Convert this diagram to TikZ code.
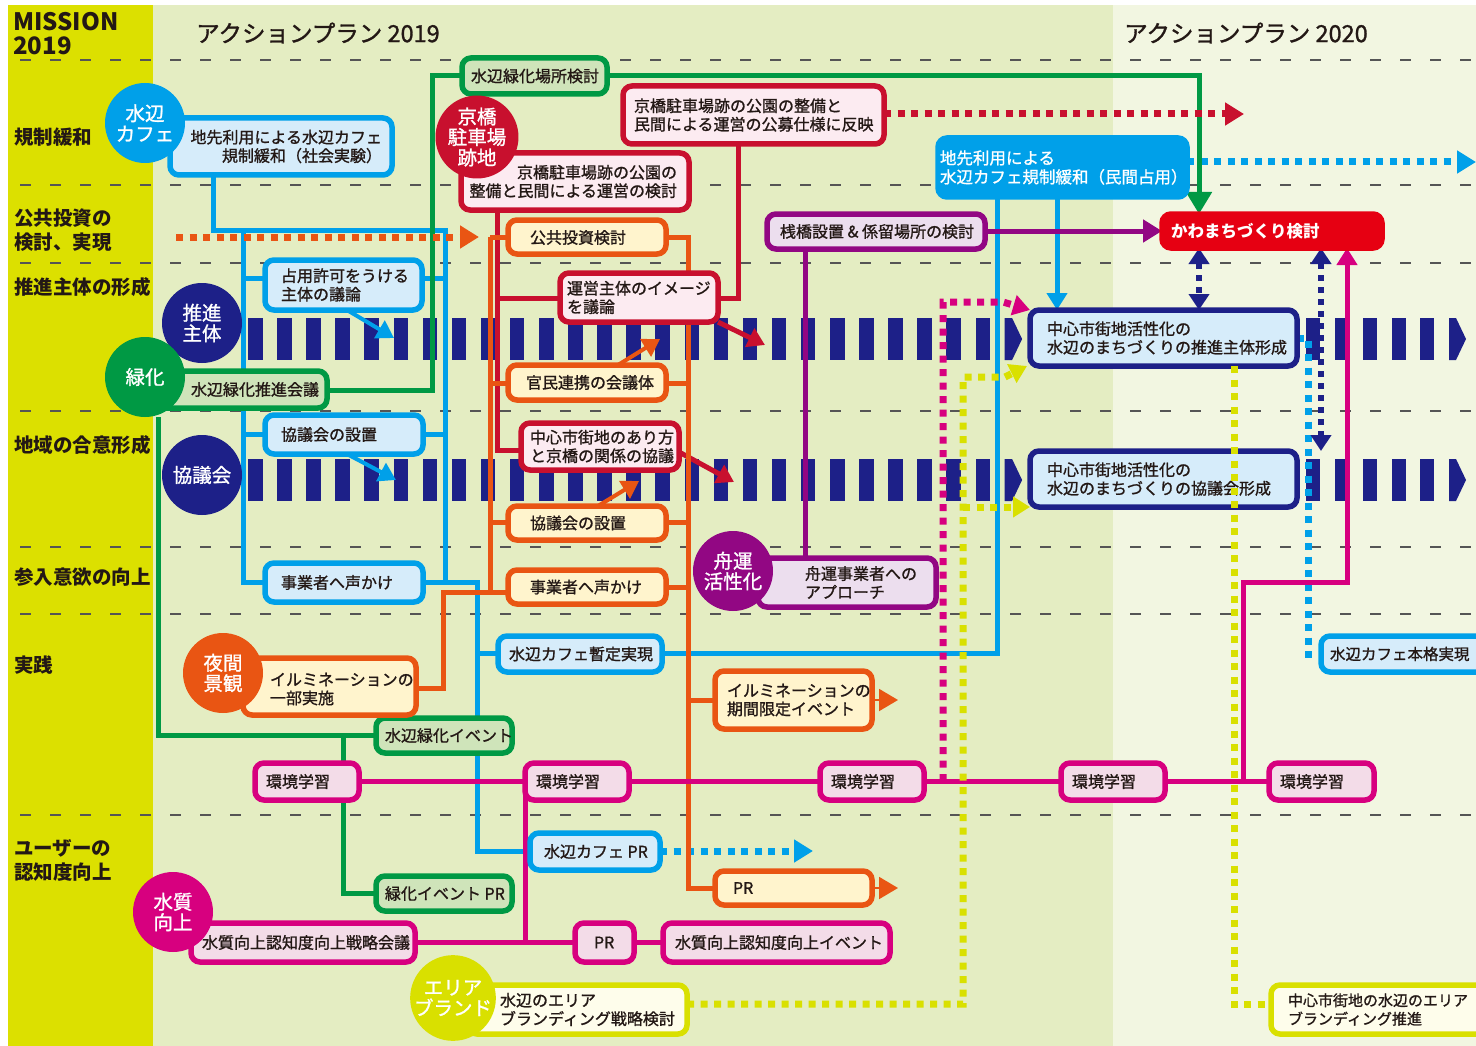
\documentclass[tikz,border=0pt]{standalone}
\usepackage{fontspec}
\setmainfont{Noto Sans CJK JP}
\newfontfamily\bxfam{Noto Sans CJK JP}[FakeBold=1.2]
\usetikzlibrary{arrows.meta}
\definecolor{bgL}{HTML}{DCE000}
\definecolor{bgM}{HTML}{E4EDC2}
\definecolor{bgR}{HTML}{F2F6E1}
\definecolor{cy}{HTML}{00A0E9}
\definecolor{cyF}{HTML}{D6ECFA}
\definecolor{gr}{HTML}{009944}
\definecolor{grF}{HTML}{CFE4BA}
\definecolor{cr}{HTML}{C8102E}
\definecolor{crF}{HTML}{FCEBF1}
\definecolor{or}{HTML}{E95513}
\definecolor{orF}{HTML}{FFF4CD}
\definecolor{pu}{HTML}{920783}
\definecolor{puF}{HTML}{ECDEEE}
\definecolor{mg}{HTML}{D7007F}
\definecolor{mgF}{HTML}{F3DCE8}
\definecolor{nv}{HTML}{1D2088}
\definecolor{nvF}{HTML}{D6ECFA}
\definecolor{rd}{HTML}{E60012}
\definecolor{lm}{HTML}{D9E000}
\definecolor{lmF}{HTML}{FEFDEB}
\definecolor{gridc}{HTML}{555555}
\definecolor{tx}{HTML}{231815}
\pgfdeclarelayer{bg}
\pgfdeclarelayer{conn}
\pgfdeclarelayer{top}
\pgfsetlayers{bg,conn,main,top}
\newcommand\bxfont{\bxfam\fontsize{16}{18.5}\selectfont}
\newcommand\cfont{\bxfam\fontsize{19.5}{20.5}\selectfont}
\newcommand\lfont{\bfseries\fontsize{19.5}{24}\selectfont}
\newcommand\mkbox[6]{\node[#2, minimum width={#5-#3-6}, minimum height={#6-#4-6}] (#1) at ({(#3+#5)/2},{(#4+#6)/2}) {};}
\tikzset{
 bxbase/.style={rectangle, rounded corners=9pt, line width=5.5pt, inner sep=0pt, outer sep=0pt},
 cbox/.style={bxbase, draw=cy, fill=cyF},
 gbox/.style={bxbase, draw=gr, fill=grF},
 rbox/.style={bxbase, draw=cr, fill=crF},
 obox/.style={bxbase, draw=or, fill=orF},
 pbox/.style={bxbase, draw=pu, fill=puF},
 mbox/.style={bxbase, draw=mg, fill=mgF},
 nbox/.style={bxbase, draw=nv, fill=nvF},
 ybox/.style={bxbase, draw=lm, fill=lmF},
 solidbox/.style={bxbase, draw=#1, fill=#1},
 txt/.style={inner sep=0pt, outer sep=0pt, font=\bxfont, text=tx, align=left, anchor=west},
 circ/.style={circle, fill=#1, minimum size=80pt, inner sep=0pt, text=white, font=\cfont, align=center},
 ln/.style={draw=#1, line width=5pt},
 dt/.style={draw=#1, line width=7pt, dash pattern=on 7pt off 6.5pt},
 atip/.style={-{Triangle[length=19pt,width=22pt]}},
 stip/.style={-{Triangle[length=17pt,width=20pt]}},
 dtip/.style={{Triangle[length=16pt,width=20pt]}-{Triangle[length=16pt,width=20pt]}},
 gridln/.style={draw=gridc, line width=1.6pt, dash pattern=on 11pt off 19pt},
 lbl/.style={inner sep=0pt, anchor=west, font=\lfont, text=tx, align=left},
 hdr/.style={inner sep=0pt, anchor=west, font=\bxfam\fontsize{23.5}{25}\selectfont, text=tx},
}
\begin{document}
\begin{tikzpicture}[x=1pt,y=-1pt]
\useasboundingbox (0,0) rectangle (1476,1046);
% ---------- labels ----------
\node[lbl, font=\bfseries\fontsize{24}{24}\selectfont] (mis) at (13,34) {MISSION\\2019};
\node[lbl] (L1) at (14,137) {規制緩和};
\node[lbl] (L2) at (14,230) {公共投資の\\検討、実現};
\node[lbl] (L3) at (14,287) {推進主体の形成};
\node[lbl] (L4) at (14,445) {地域の合意形成};
\node[lbl] (L5) at (14,577) {参入意欲の向上};
\node[lbl] (L6) at (14,665) {実践};
\node[lbl] (L7) at (14,860) {ユーザーの\\認知度向上};
\node[hdr] (H1) at (196,33) {アクションプラン 2019};
\node[hdr] (H2) at (1124,33) {アクションプラン 2020};
% ---------- boxes ----------
\mkbox{B1}{cbox}{167}{115}{395}{178}
\node[txt, anchor=east, align=right] (B1t) at (382,146.5) {地先利用による水辺カフェ\\規制緩和（社会実験）};
\mkbox{B2}{cbox}{262}{257}{425}{313}
\node[txt] (B2t) at (281,285) {占用許可をうける\\主体の議論};
\mkbox{B3}{cbox}{262}{412}{426}{457}
\node[txt] (B3t) at (281,434.5) {協議会の設置};
\mkbox{B4}{cbox}{262}{560}{426}{605}
\node[txt] (B4t) at (281,582.5) {事業者へ声かけ};
\mkbox{B5}{cbox}{495}{633}{665}{675}
\node[txt] (B5t) at (509,654) {水辺カフェ暫定実現};
\mkbox{B6}{cbox}{527}{830}{663}{873}
\node[txt] (B6t) at (544,851.5) {水辺カフェ PR};
\mkbox{B7}{solidbox=cy}{935}{135}{1190}{200}
\node[txt, text=white, font=\bxfam\fontsize{16.5}{19}\selectfont] (B7t) at (940,167.5) {地先利用による\\水辺カフェ規制緩和（民間占用）};
\mkbox{B8}{cbox}{1318}{633}{1495}{675}
\node[txt, font=\bxfam\fontsize{15.5}{18.5}\selectfont] (B8t) at (1330,654) {水辺カフェ本格実現};
\mkbox{G1}{gbox}{459}{55}{610}{97}
\node[txt] (G1t) at (471,76) {水辺緑化場所検討};
\mkbox{G2}{gbox}{150}{368}{330}{411}
\node[txt] (G2t) at (191,389.5) {水辺緑化推進会議};
\mkbox{G3}{gbox}{373}{715}{515}{756}
\node[txt] (G3t) at (385,735.5) {水辺緑化イベント};
\mkbox{G4}{gbox}{373}{873}{515}{914}
\node[txt] (G4t) at (385,893.5) {緑化イベント PR};
\mkbox{R1}{rbox}{620}{83}{887}{147}
\node[txt] (R1t) at (634,115) {京橋駐車場跡の公園の整備と\\民間による運営の公募仕様に反映};
\mkbox{R2}{rbox}{458}{150}{692}{213}
\node[txt, anchor=east, align=right] (R2t) at (677,181.5) {京橋駐車場跡の公園の\\整備と民間による運営の検討};
\mkbox{R3}{rbox}{557}{270}{721}{325}
\node[txt] (R3t) at (567,297.5) {運営主体のイメージ\\を議論};
\mkbox{R4}{rbox}{518}{420}{682}{473}
\node[txt] (R4t) at (530,446.5) {中心市街地のあり方\\と京橋の関係の協議};
\mkbox{O1}{obox}{505}{217}{669}{257}
\node[txt] (O1t) at (530,237.5) {公共投資検討};
\mkbox{O2}{obox}{505}{362}{669}{403}
\node[txt] (O2t) at (526,382.5) {官民連携の会議体};
\mkbox{O3}{obox}{505}{503}{669}{543}
\node[txt] (O3t) at (530,523) {協議会の設置};
\mkbox{O4}{obox}{505}{567}{669}{607}
\node[txt] (O4t) at (530,587) {事業者へ声かけ};
\mkbox{O5}{obox}{240}{655}{419}{718}
\node[txt] (O5t) at (270,689) {イルミネーションの\\一部実施};
\mkbox{O6}{obox}{712}{668}{875}{732}
\node[txt] (O6t) at (727,700) {イルミネーションの\\期間限定イベント};
\mkbox{O7}{obox}{712}{868}{875}{908}
\node[txt] (O7t) at (733,888) {PR};
\mkbox{P1}{pbox}{764}{211}{988}{252}
\node[txt] (P1t) at (780,231.5) {桟橋設置 \& 係留場所の検討};
\mkbox{P2}{pbox}{755}{555}{939}{610}
\node[txt] (P2t) at (805,582.5) {舟運事業者への\\アプローチ};
\mkbox{M1}{mbox}{252}{760}{362}{803}
\node[txt] (M1t) at (266,781.5) {環境学習};
\mkbox{M2}{mbox}{522}{760}{632}{803}
\node[txt] (M2t) at (536,781.5) {環境学習};
\mkbox{M3}{mbox}{817}{760}{927}{803}
\node[txt] (M3t) at (831,781.5) {環境学習};
\mkbox{M4}{mbox}{1058}{760}{1168}{803}
\node[txt] (M4t) at (1072,781.5) {環境学習};
\mkbox{M5}{mbox}{1266}{760}{1377}{803}
\node[txt] (M5t) at (1280,781.5) {環境学習};
\mkbox{M6}{mbox}{188}{920}{418}{965}
\node[txt] (M6t) at (202,942.5) {水質向上認知度向上戦略会議};
\mkbox{M7}{mbox}{572}{920}{637}{965}
\node[txt] (M7t) at (594,942.5) {PR};
\mkbox{M8}{mbox}{660}{920}{893}{965}
\node[txt] (M8t) at (675,942.5) {水質向上認知度向上イベント};
\mkbox{N1}{nbox}{1027}{307}{1300}{369}
\node[txt] (N1t) at (1047,338) {中心市街地活性化の\\水辺のまちづくりの推進主体形成};
\mkbox{N2}{nbox}{1027}{448}{1300}{510}
\node[txt] (N2t) at (1047,479) {中心市街地活性化の\\水辺のまちづくりの協議会形成};
\mkbox{K}{solidbox=rd}{1159}{211}{1385}{251}
\node[txt, text=white, font=\bfseries\fontsize{16.5}{19}\selectfont] (Kt) at (1171,231) {かわまちづくり検討};
\mkbox{Y1}{ybox}{465}{982}{690}{1037}
\node[txt] (Y1t) at (500,1009.5) {水辺のエリア\\ブランディング戦略検討};
\mkbox{Y2}{ybox}{1268}{982}{1495}{1037}
\node[txt, font=\bxfam\fontsize{15}{18.5}\selectfont] (Y2t) at (1288,1009.5) {中心市街地の水辺のエリア\\ブランディング推進};
% ---------- circles ----------
\node[circ=cy] (c1) at (145,123) {水辺\\カフェ};
\node[circ=cr] (c2) at (477,137) {京橋\\駐車場\\跡地};
\node[circ=nv] (c3) at (202,323) {推進\\主体};
\node[circ=gr] (c4) at (145,377) {緑化};
\node[circ=nv] (c5) at (202,475) {協議会};
\node[circ=pu] (c6) at (733,571) {舟運\\活性化};
\node[circ=or] (c7) at (223,673) {夜間\\景観};
\node[circ=mg] (c8) at (173,912) {水質\\向上};
\node[circ=lm] (c9) at (453,998) {エリア\\ブランド};
% ---------- background ----------
\begin{pgfonlayer}{bg}
\fill[white] (0,0) rectangle (1476,1046);
\fill[bgL] (8,5) rectangle (153,1046);
\fill[bgM] (153,5) rectangle (1113,1046);
\fill[bgR] (1113,5) rectangle (1476,1046);
\foreach \yy in {60,185,263,411,547,614,815} \draw[gridln] (20,\yy) -- (1476,\yy);
\foreach \yy in {318,459} {
  \foreach \k in {0,...,25} \fill[nv] ({248+29.1*\k},\yy) rectangle ++(14.5,42);
  \fill[nv] (1004.6,\yy) -- ++(7.5,0) -- ++(10,21) -- ++(-10,21) -- ++(-7.5,0) -- cycle;
  \foreach \k in {0,...,4} \fill[nv] ({1306+28.6*\k},\yy) rectangle ++(14,42);
  \fill[nv] (1449,\yy) -- ++(7,0) -- ++(10,21) -- ++(-10,21) -- ++(-7,0) -- cycle;
}
\end{pgfonlayer}
% ---------- connectors ----------
\begin{pgfonlayer}{conn}
% cyan
\draw[ln=cy] (B1.south -| 213,0) |- (445,230) -- (445,582) -| (477,851) -- (B6.west |- 0,851);
\draw[ln=cy] (243,230) -- (243,582) -- (B4.west |- 0,582);
\draw[ln=cy] (243,278) -- (B2.west |- 0,278);
\draw[ln=cy] (B2.east |- 0,278) -- (445,278);
\draw[ln=cy] (243,434) -- (B3.west |- 0,434);
\draw[ln=cy] (B3.east |- 0,434) -- (445,434);
\draw[ln=cy] (B4.east |- 0,582) -- (445,582);
\draw[ln=cy] (477,653) -- (B5.west |- 0,653);
\draw[ln=cy] (B5.east |- 0,653) -| (B7.south -| 997,0);
\draw[ln=cy, stip] (B7.south -| 1057,0) -- (N1.north -| 1057,0);
\draw[ln=cy, line width=4pt, stip] (B2.south -| 347,0) -- (394,338);
\draw[ln=cy, line width=4pt, stip] (B3.south -| 347,0) -- (396,480);
\draw[dt=cy, atip] (B6.east |- 0,851) -- (813,851);
\draw[dt=cy, atip] (B7.east |- 0,162) -- (1476,162);
\draw[dt=cy] (N1.east |- 0,338) -| (1308,654) -- (B8.west |- 0,654);
% green
\draw[ln=gr] (G2.east |- 0,390) -| (432,76) -- (G1.west |- 0,76);
\draw[ln=gr, -{Triangle[length=22pt,width=25pt]}] (G1.east |- 0,76) -| (K.north -| 1199,0);
\draw[ln=gr] (c4.south -| 158,0) -- (158,735) -- (G3.west |- 0,735);
\draw[ln=gr] (343,735) -- (343,893) -- (G4.west |- 0,893);
% crimson
\draw[ln=cr] (R2.south -| 497,0) -- (497,450) -- (R4.west |- 0,450);
\draw[ln=cr] (497,298) -- (R3.west |- 0,298);
\draw[ln=cr] (R1.south -| 738,0) |- (R3.east |- 0,298);
\draw[dt=cr, atip] (R1.east |- 0,114) -- (1244,114);
\draw[ln=cr, stip] (R3.south east) -- (765,345);
\draw[ln=cr, stip] (R4.east |- 0,452) -- (734,482);
% orange
\coordinate (od0) at (176,237);
\coordinate (od1) at (479,237);
\draw[ln=or] (490,237) -- (O1.west |- 0,237);
\draw[ln=or] (490,237) -- (490,592) -- (O4.west |- 0,592);
\draw[ln=or] (490,383) -- (O2.west |- 0,383);
\draw[ln=or] (490,522) -- (O3.west |- 0,522);
\draw[ln=or] (490,592) -| (443,688) -- (O5.east |- 0,688);
\draw[ln=or] (O1.east |- 0,237) -| (688,888) -- (O7.west |- 0,888);
\draw[ln=or] (O2.east |- 0,383) -- (688,383);
\draw[ln=or] (O3.east |- 0,522) -- (688,522);
\draw[ln=or] (O4.east |- 0,587) -- (688,587);
\draw[ln=or] (688,700) -- (O6.west |- 0,700);
\draw[ln=or, line width=4pt, stip] (O2.north -| 618,0) -- (660,339);
\draw[ln=or, line width=4pt, stip] (O3.north -| 598,0) -- (639,481);
\draw[ln=or, line width=2pt, atip] (O6.east |- 0,700) -- (898,700);
\draw[ln=or, line width=2pt, atip] (O7.east |- 0,888) -- (898,888);
% purple
\draw[ln=pu, atip] (P1.east |- 0,231) -- (K.west |- 0,231);
\draw[ln=pu] (P1.south -| 805,0) -- (P2.north -| 805,0);
% magenta
\draw[ln=mg] (M1.east) -- (M2.west);
\draw[ln=mg] (M2.east) -- (M3.west);
\draw[ln=mg] (M3.east) -- (M4.west);
\draw[ln=mg] (M4.east) -- (M5.west);
\draw[ln=mg] (M2.west) -- (M2.west |- 0,942);
\draw[ln=mg] (M6.east) -- (M7.west);
\draw[ln=mg] (M7.east) -- (M8.west);
\draw[ln=mg, stip] (1243,781) |- (1347,582) -- (K.south -| 1347,0);
\draw[dt=mg, stip] (943,781) -- (943,302) -- (1003,302) -- (N1.north west);
% orange dotted (over cyan)
\draw[dt=or, atip] (od0) -- (od1);
% yellow
\draw[dt=lm, stip] (Y1.east |- 0,1004) -- (963,1004) -- (963,377) -- (1005,377) -- (1027,366);
\draw[dt=lm, stip] (963,507) -- (N2.west |- 0,507);
% navy
\draw[dt=nv, line width=6pt, dash pattern=on 6pt off 6pt, dtip] (K.south -| 1199,0) -- (N1.north -| 1199,0);
\draw[dt=nv, line width=6pt, dash pattern=on 6pt off 6pt, dtip] (K.south -| 1321,0) -- (N2.north -| 1321,0);
\end{pgfonlayer}
\begin{pgfonlayer}{top}
\draw[dt=lm] (N1.south -| 1234,0) -- (1234,1004) -- (Y2.west |- 0,1004);
\end{pgfonlayer}
\end{tikzpicture}
\end{document}
